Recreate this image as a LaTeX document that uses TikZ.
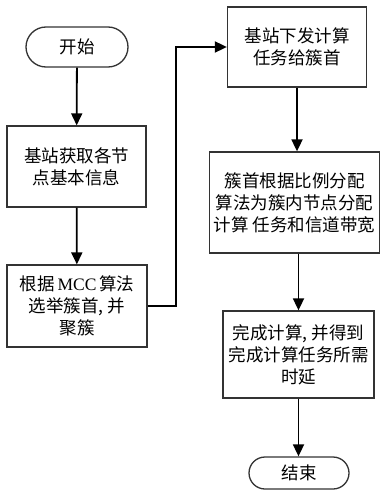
\documentclass[tikz,border=0pt]{standalone}
\usepackage{fontspec}
\newfontfamily\cjk{Noto Sans CJK SC}
\newfontfamily\latinserif{Liberation Serif}
\usetikzlibrary{arrows.meta}
\tikzset{
  box/.style={draw=black!80, line width=1.3pt, align=center, inner sep=0pt,
    font=\cjk\fontsize{17.5}{22}\selectfont},
  term/.style={box, rounded corners=16pt},
  arr/.style={draw=black, line width=1.8pt, -{Triangle[length=12pt,width=11pt]}}
}
\begin{document}
\begin{tikzpicture}[x=1pt,y=-1pt]
\useasboundingbox[fill=white] (0,0) rectangle (384,492);
\node[term, minimum width=102pt, minimum height=40pt, rounded corners=20pt] (start) at (77,47) {开始};
\node[box, minimum width=139pt, minimum height=81pt] (b1) at (76.5,166.5) {基站获取各节\\点基本信息};
\node[box, minimum width=140pt, minimum height=82pt] (b2) at (77,306) {根据{\latinserif\,MCC\,}算法\\选举簇首, 并\\聚簇};
\node[box, minimum width=139pt, minimum height=80pt] (b3) at (297,47) {基站下发计算\\任务给簇首};
\node[box, minimum width=170pt, minimum height=101pt] (b4) at (294.5,202.5) {簇首根据比例分配\\算法为簇内节点分配\\计算 任务和信道带宽};
\node[box, minimum width=151pt, minimum height=87pt] (b5) at (298.5,354.5) {完成计算, 并得到\\完成计算任务所需\\时延};
\node[term, minimum width=100pt, minimum height=32pt] (end) at (299,473) {结束};
\coordinate (turn) at (176,47);
\draw[arr] (start) -- (b1);
\draw[arr] (b1) -- (b2);
\draw[arr] (b2.east) -| (turn) -- (b3.west);
\draw[arr] (b3.south) -- (b3.south |- b4.north);
\draw[arr] (b5.north |- b4.south) -- (b5.north);
\draw[arr] (b5.south) -- (b5.south |- end.north);
\end{tikzpicture}
\end{document}
